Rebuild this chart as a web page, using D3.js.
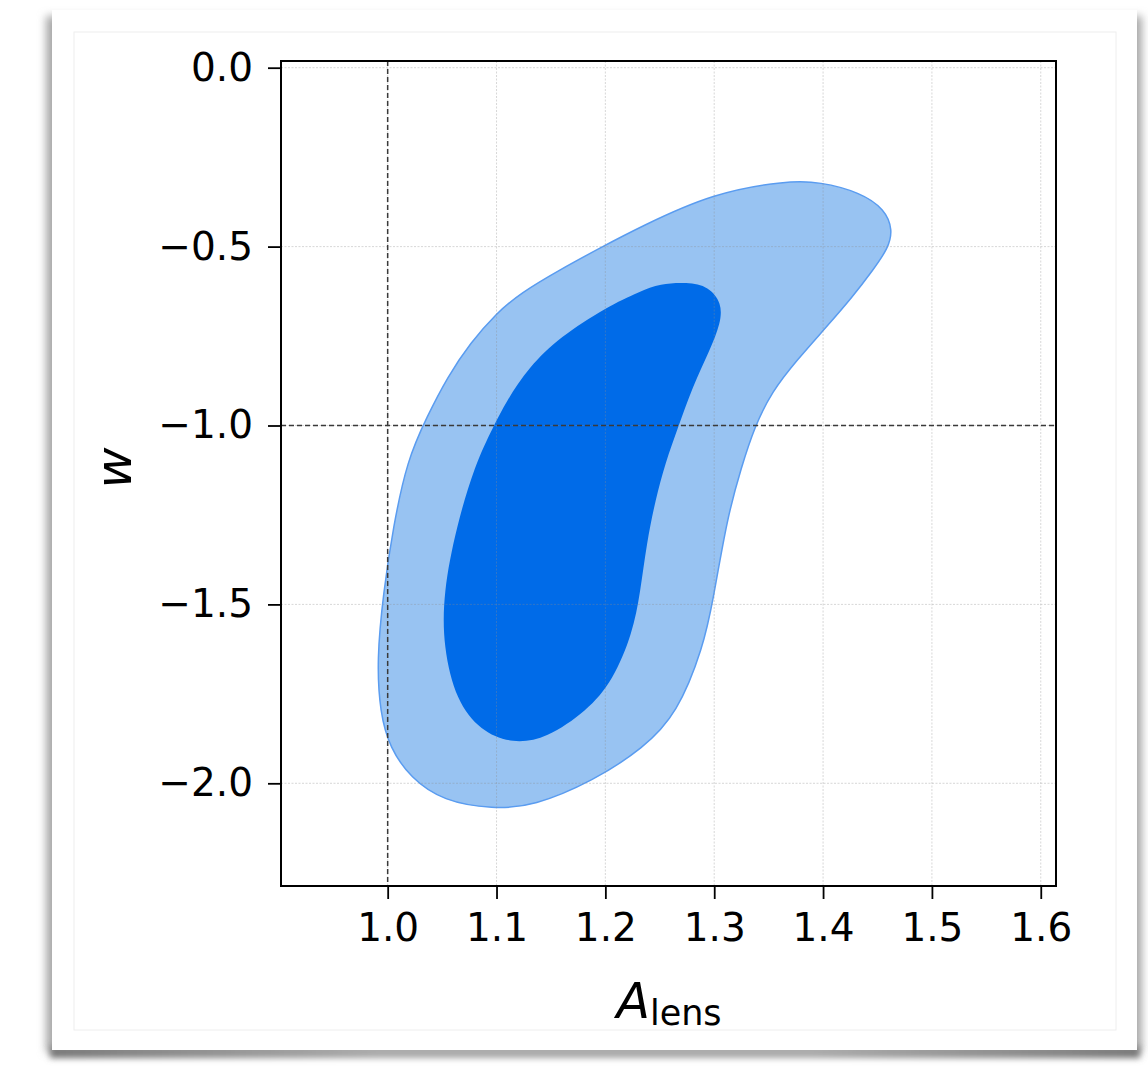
<!DOCTYPE html>
<html>
<head>
<meta charset="utf-8">
<script src="https://cdn.jsdelivr.net/npm/d3@7"></script>
<style>
  body { margin: 0; background: #fff; }
  svg { display: block; font-family: "DejaVu Sans", sans-serif; }
</style>
</head>
<body>
<div id="chart"></div>
<script>

// tick values
var xTicks = [1.0, 1.1, 1.2, 1.3, 1.4, 1.5, 1.6];
var yTicks = [0.0, -0.5, -1.0, -1.5, -2.0];

// reference (fiducial) values
var refA = 1.0;
var refW = -1.0;

// 95% contour (outer)
var outerA = [0.993, 0.990, 0.996, 1.005, 1.018, 1.036, 1.055, 1.076, 1.100, 1.122, 1.158, 1.195, 1.232, 1.299,
              1.367, 1.397, 1.434, 1.457, 1.464, 1.460, 1.446, 1.427, 1.403, 1.376, 1.353, 1.337, 1.325, 1.312,
              1.299, 1.290, 1.266, 1.235, 1.189, 1.134, 1.097, 1.051, 1.021, 1.002];
var outerW = [-1.804, -1.655, -1.468, -1.284, -1.096, -0.976, -0.864, -0.769, -0.686, -0.630, -0.565, -0.504, -0.445, -0.350,
              -0.316, -0.319, -0.348, -0.396, -0.454, -0.504, -0.565, -0.641, -0.725, -0.817, -0.905, -1.004, -1.116, -1.256,
              -1.488, -1.619, -1.806, -1.902, -1.993, -2.064, -2.072, -2.050, -1.985, -1.901];

// 68% contour (inner)
var innerA = [1.232, 1.250, 1.275, 1.295, 1.307, 1.306, 1.296, 1.280, 1.267, 1.255, 1.246, 1.238, 1.232, 1.225,
              1.207, 1.183, 1.146, 1.115, 1.085, 1.063, 1.051, 1.051, 1.063, 1.080, 1.097, 1.109, 1.130, 1.158, 1.201];
var innerW = [-0.625, -0.604, -0.599, -0.611, -0.658, -0.714, -0.789, -0.892, -1.004, -1.105, -1.208, -1.328, -1.468, -1.580,
              -1.713, -1.798, -1.874, -1.890, -1.853, -1.769, -1.619, -1.468, -1.284, -1.110, -1.004, -0.932, -0.836, -0.753, -0.669];

var width = 1148, height = 1067;
var plot = {left: 281, top: 61, right: 1056, bottom: 886};

var svg = d3.select('#chart')
    .append('svg')
    .attr('width', width)
    .attr('height', height);

var defs = svg.append('defs');
defs.append('filter').attr('id', 'blur').attr('x', '-10%').attr('y', '-10%').attr('width', '120%').attr('height', '120%')
    .append('feGaussianBlur').attr('stdDeviation', 4);
defs.append('filter').attr('id', 'blur2').attr('x', '-5%').attr('y', '-100%').attr('width', '110%').attr('height', '300%')
    .append('feGaussianBlur').attr('stdDeviation', 3);
var grad = defs.append('linearGradient').attr('id', 'shade');
grad.append('stop').attr('offset', '0%').attr('stop-color', '#777');
grad.append('stop').attr('offset', '30%').attr('stop-color', '#aaa');
grad.append('stop').attr('offset', '70%').attr('stop-color', '#aaa');
grad.append('stop').attr('offset', '100%').attr('stop-color', '#777');

// card with shadow
svg.append('rect')
    .attr('x', 46).attr('y', 16).attr('width', 1096).attr('height', 1036)
    .attr('fill', '#a8a8a8').attr('filter', 'url(#blur)');
svg.append('rect')
    .attr('x', 50).attr('y', 1046).attr('width', 1090).attr('height', 12)
    .attr('fill', 'url(#shade)').attr('filter', 'url(#blur2)');
svg.append('rect')
    .attr('x', 52).attr('y', 10).attr('width', 1085).attr('height', 1040)
    .attr('fill', '#fff');
svg.append('rect')
    .attr('x', 74).attr('y', 32).attr('width', 1042).attr('height', 998)
    .attr('fill', 'none').attr('stroke', '#eeeeee').attr('stroke-width', 1);

var x = d3.scaleLinear().domain([0.902, 1.614]).range([plot.left, plot.right]);
var y = d3.scaleLinear().domain([-2.287, 0.0187]).range([plot.bottom, plot.top]);

var g = svg.append('g');

// contours
var line = d3.line()
    .x(d => x(d[0]))
    .y(d => y(d[1]))
    .curve(d3.curveBasisClosed);

var outer = outerA.map((a, i) => [a, outerW[i]]);
var inner = innerA.map((a, i) => [a, innerW[i]]);

g.append('path')
    .attr('d', line(outer))
    .attr('fill', '#98c3f2')
    .attr('stroke', '#5a9cf0')
    .attr('stroke-width', 1.5);

g.append('path')
    .attr('d', line(inner))
    .attr('fill', '#006be8');

// grid
g.selectAll('.gx')
    .data(xTicks)
    .enter()
    .append('line')
    .attr('x1', d => x(d)).attr('x2', d => x(d))
    .attr('y1', plot.top).attr('y2', plot.bottom)
    .attr('stroke', 'rgba(140,140,140,0.35)')
    .attr('stroke-width', 1)
    .attr('stroke-dasharray', '2,1.5');

g.selectAll('.gy')
    .data(yTicks)
    .enter()
    .append('line')
    .attr('x1', plot.left).attr('x2', plot.right)
    .attr('y1', d => y(d)).attr('y2', d => y(d))
    .attr('stroke', 'rgba(140,140,140,0.35)')
    .attr('stroke-width', 1)
    .attr('stroke-dasharray', '2,1.5');

// reference lines
g.append('line')
    .attr('x1', x(refA)).attr('x2', x(refA))
    .attr('y1', plot.top).attr('y2', plot.bottom)
    .attr('stroke', '#3a3a3a')
    .attr('stroke-width', 1.5)
    .attr('stroke-dasharray', '5,3');

g.append('line')
    .attr('x1', plot.left).attr('x2', plot.right)
    .attr('y1', y(refW)).attr('y2', y(refW))
    .attr('stroke', '#3a3a3a')
    .attr('stroke-width', 1.5)
    .attr('stroke-dasharray', '5,3');

// frame
g.append('rect')
    .attr('x', plot.left).attr('y', plot.top)
    .attr('width', plot.right - plot.left).attr('height', plot.bottom - plot.top)
    .attr('fill', 'none')
    .attr('stroke', '#000')
    .attr('stroke-width', 2);

// axes
var xAxis = d3.axisBottom(x).tickValues(xTicks).tickFormat(d3.format('.1f')).tickSize(13).tickPadding(14);
var yAxis = d3.axisLeft(y).tickValues(yTicks).tickFormat(d3.format('.1f')).tickSize(13).tickPadding(15);

var gx = svg.append('g').attr('transform', 'translate(0,' + plot.bottom + ')').call(xAxis);
var gy = svg.append('g').attr('transform', 'translate(' + plot.left + ',0)').call(yAxis);

[gx, gy].forEach(function (ax) {
    ax.select('.domain').remove();
    ax.selectAll('.tick line').attr('stroke', '#000').attr('stroke-width', 1.8);
    ax.selectAll('.tick text')
        .attr('fill', '#000')
        .style('font-family', '"DejaVu Sans", sans-serif')
        .style('font-size', '39px');
});

// axis labels
svg.append('text')
    .attr('transform', 'translate(131,468) rotate(-90)')
    .attr('text-anchor', 'middle')
    .style('font-size', '50px')
    .style('font-style', 'italic')
    .attr('fill', '#000')
    .text('w');

var xl = svg.append('text')
    .attr('x', 669)
    .attr('y', 1018)
    .attr('text-anchor', 'middle')
    .attr('fill', '#000');
xl.append('tspan').style('font-size', '49px').style('font-style', 'italic').text('A');
xl.append('tspan').attr('dy', 7).style('font-size', '35px').text('lens');

</script>
</body>
</html>
